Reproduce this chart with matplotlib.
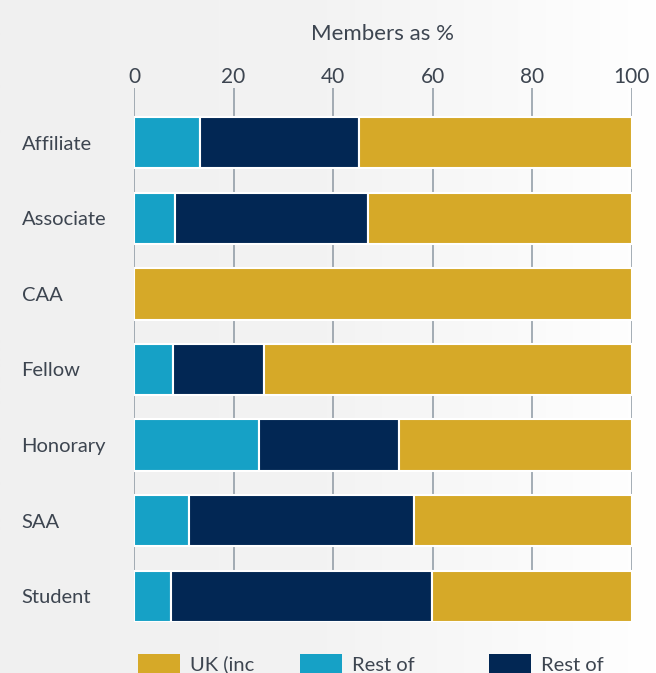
import numpy as np
import matplotlib.pyplot as plt
from matplotlib.patches import Patch
from matplotlib.colors import LinearSegmentedColormap

categories = ['Affiliate', 'Associate', 'CAA', 'Fellow', 'Honorary', 'SAA', 'Student']
rest_of_europe = [13.3, 8.2, 0.0, 7.9, 25.1, 11.0, 7.4]
rest_of_world = [31.9, 38.9, 0.0, 18.2, 28.1, 45.2, 52.4]
uk = [54.8, 52.9, 100.0, 73.9, 46.8, 43.8, 40.2]
legend_labels = ['UK (inc', 'Rest of', 'Rest of']
xticks = [0, 20, 40, 60, 80, 100]

gold = '#D6A928'
cyan = '#16A1C6'
navy = '#022754'
txt = '#3d4550'

plt.rcParams['font.family'] = ['Lato', 'DejaVu Sans']

fig = plt.figure(figsize=(6.56, 6.73), dpi=100)

# background: grey on the left fading to white on the right
bg = fig.add_axes([0, 0, 1, 1], zorder=-10)
grad = np.linspace(0, 1, 256).reshape(1, -1)
bg.imshow(grad, aspect='auto', extent=[0, 1, 0, 1],
          cmap=LinearSegmentedColormap.from_list('bg', ['#f0f0f0', '#f3f3f3', '#ffffff']))
bg.axis('off')

ax = fig.add_axes([0.2043, 0.0758, 0.7587, 0.7932])
ax.patch.set_alpha(0)

y = np.arange(len(categories))
left1 = np.array(rest_of_europe)
left2 = left1 + np.array(rest_of_world)
kw = dict(height=0.68, edgecolor='white', linewidth=1.5, zorder=3)
ax.barh(y, rest_of_europe, color=cyan, **kw)
ax.barh(y, rest_of_world, left=left1, color=navy, **kw)
ax.barh(y, uk, left=left2, color=gold, **kw)

ax.set_xlim(0, 100)
ax.set_ylim(6.34, -0.72)
ax.set_xticks(xticks)
ax.xaxis.tick_top()
ax.xaxis.set_label_position('top')
ax.set_xlabel('Members as %', fontsize=16, color=txt, labelpad=19)
ax.tick_params(axis='x', length=0, pad=1, labelsize=15, labelcolor=txt)
ax.grid(axis='x', color='#8c97a2', linewidth=1.1, zorder=1)
ax.set_axisbelow(True)

ax.set_yticks(y)
ax.set_yticklabels(categories)
ax.tick_params(axis='y', length=0, pad=81, labelsize=14.5, labelcolor=txt)
for lab in ax.get_yticklabels():
    lab.set_horizontalalignment('left')

for s in ax.spines.values():
    s.set_visible(False)

# legend entries placed along the bottom edge
colors = [gold, cyan, navy]
xpos = [0.2104, 0.4573, 0.7454]
for lbl, c, xp in zip(legend_labels, colors, xpos):
    fig.legend(handles=[Patch(facecolor=c, edgecolor='none')], labels=[lbl],
               loc='upper left', bbox_to_anchor=(xp, 0.0282), frameon=False,
               fontsize=14.5, labelcolor=txt, handlelength=2.09, handleheight=1.1,
               handletextpad=0.5, borderpad=0, borderaxespad=0)

fig.savefig('out.png', dpi=100)
